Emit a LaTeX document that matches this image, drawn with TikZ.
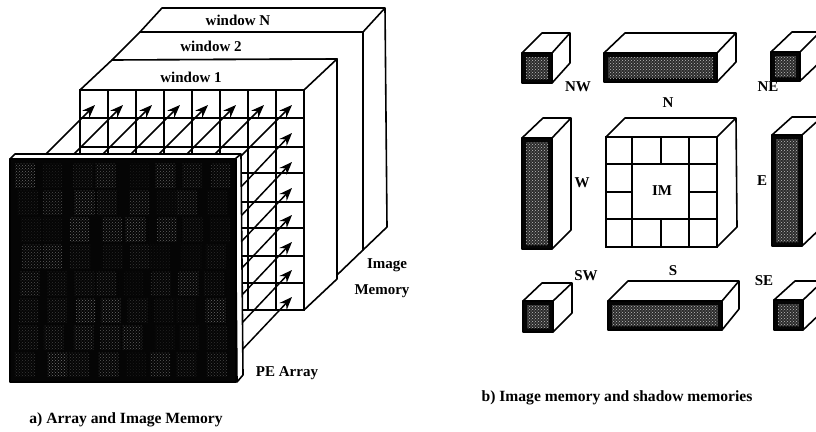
\documentclass[tikz,border=0pt]{standalone}
\usepackage{fontspec}
\setmainfont{Liberation Serif}
\usetikzlibrary{arrows.meta,patterns,calc}
\definecolor{MemDark}{HTML}{050505}
\definecolor{MemMid}{HTML}{2C2C2C}
\definecolor{MemDot}{HTML}{BEBEBE}
\tikzset{
  memline/.style={line width=1.6pt,draw=black,line join=round},
  gridline/.style={line width=1.5pt,draw=black},
  memarrow/.style={-{Stealth[length=13pt,width=10pt]},line width=1.5pt,draw=black},
  memlabel/.style={font=\bfseries\fontsize{15}{16}\selectfont,inner sep=0pt},
  captext/.style={font=\bfseries\fontsize{15.6}{17}\selectfont,inner sep=0pt}
}
% front face with stipple, top and right faces white
\newcommand{\memblock}[8]{%
  \draw[memline,fill=white] (#1,#3)--(#5,#7)--(#6,#7)--(#6,#8)--(#2,#4)--(#2,#3)--cycle;
  \draw[memline] (#2,#3)--(#6,#7);
  \fill[MemDark] (#1,#3) rectangle (#2,#4);
  \fill[MemMid] ($(#1,#3)+(4,4)$) rectangle ($(#2,#4)+(-4,-4)$);
  \fill[pattern=crosshatch dots,pattern color=MemDot] ($(#1,#3)+(4,4)$) rectangle ($(#2,#4)+(-4,-4)$);
  \draw[memline] (#1,#3) rectangle (#2,#4);
}
\begin{document}
\begin{tikzpicture}[x=1pt,y=-1pt]
\useasboundingbox (0,0) rectangle (816,431);
\clip (0,0) rectangle (816,431);
% image memory windows
\draw[memline,fill=white] (162,8)--(385,8)--(387,227)--(363,250)--(363,32)--(140,32)--cycle;
\draw[memline] (385,8)--(363,32);
\draw[memline,fill=white] (140,32)--(363,32)--(363,250)--(337,275)--(337,59)--(112,60)--cycle;
\draw[memline,fill=white] (112,60)--(337,59)--(337,279)--(304,310)--(304,90)--(80,90)--cycle;
\draw[memline] (337,59)--(304,90);
\draw[gridline] (80,90) rectangle (304,310);
\foreach \y in {118,147,173,202,228,256,283}{\draw[gridline] (80,\y)--(304,\y);}
\foreach \x in {108,136,164,192,220,248,276}{\draw[gridline] (\x,90)--(\x,310);}
% PE to memory arrows
\foreach \x in {95,123,152,180,208,236,264,292}{\draw[memarrow] (\x-52,157)--(\x,105);}
\foreach \y in {133,162,188,215,242,270,297}{\draw[memarrow] (240,\y+55)--(292,\y);}
% PE array
\draw[memline,fill=white] (10,159)--(15,154)--(241,154)--(243,375)--(237,382)--(235,159)--cycle;
\draw[memline] (241,154)--(235,159);
\fill[MemDark] (10,159) rectangle (236,382);
\pgfmathsetseed{7}
\foreach \i in {0,...,7}{\foreach \j in {0,...,7}{
  \pgfmathsetmacro{\patch}{0.1+0.5*rnd}
  \pgfmathsetmacro{\jit}{8*rnd}
  \fill[pattern=crosshatch dots,pattern color=MemDot,opacity=\patch] (14+27*\i+\jit,163+27*\j) rectangle (34+27*\i+\jit,187+27*\j);
}}
\draw[memline] (10,159) rectangle (236,382);
% shadow memories
\memblock{522}{552}{53}{83}{542}{570}{33}{63}
\memblock{604}{717}{53}{82}{625}{736}{33}{62}
\memblock{771}{800}{52}{81}{792}{820}{32}{62}
\memblock{522}{552}{138}{249}{543}{571}{118}{230}
\memblock{772}{802}{135}{246}{792}{822}{117}{227}
\memblock{523}{553}{301}{332}{542}{572}{283}{313}
\memblock{608}{722}{301}{330}{628}{739}{281}{309}
\memblock{774}{803}{300}{330}{795}{823}{281}{311}
% centre image memory
\draw[memline,fill=white] (606,137)--(625,118)--(736,118)--(737,227)--(717,247)--(717,137)--cycle;
\draw[memline] (717,137)--(736,118);
\draw[gridline] (606,137) rectangle (717,247);
\draw[gridline] (606,164)--(717,164);
\draw[gridline] (606,219)--(717,219);
\draw[gridline] (606,192)--(632,192);
\draw[gridline] (689,192)--(717,192);
\draw[gridline] (632,137)--(632,247);
\draw[gridline] (689,137)--(689,247);
\draw[gridline] (661,137)--(661,164);
\draw[gridline] (661,219)--(661,247);
% labels
\node[memlabel] (winN) at (238,20) {window N};
\node[memlabel] (win2) at (211,46) {window 2};
\node[memlabel] (win1) at (191,77) {window 1};
\node[memlabel] (image) at (387,265) {Image};
\node[memlabel] (memory) at (382,291) {Memory};
\node[memlabel] (pearray) at (287,373) {PE Array};
\node[captext] (capa) at (126,420) {a) Array and Image Memory};
\node[captext] (capb) at (617,398) {b) Image memory and shadow memories};
\node[memlabel] (nw) at (578,87) {NW};
\node[memlabel] (n) at (668,103) {N};
\node[memlabel] (ne) at (768,87) {NE};
\node[memlabel] (w) at (582,183) {W};
\node[memlabel] (im) at (662,191) {IM};
\node[memlabel] (e) at (762,181) {E};
\node[memlabel] (sw) at (586,276) {SW};
\node[memlabel] (s) at (673,271) {S};
\node[memlabel] (se) at (764,281) {SE};
\end{tikzpicture}
\end{document}
